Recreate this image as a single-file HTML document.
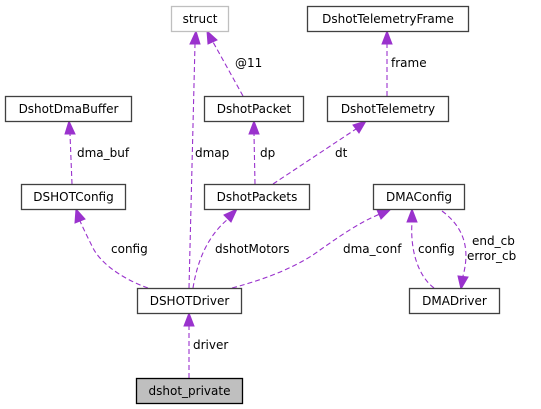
<!DOCTYPE html>
<html><head><meta charset="utf-8"><style>
html,body{margin:0;padding:0;background:#fff;}
svg{display:block;}
text{font-family:"DejaVu Sans",sans-serif;font-size:12px;fill:#000;}
.n{fill:#fff;stroke:#404040;stroke-width:1.3;}
.e{fill:none;stroke:#9a32cd;stroke-dasharray:5,3;stroke-width:1.1;}
.a{fill:#9a32cd;stroke:#9a32cd;}
</style></head><body>
<svg width="541" height="409" viewBox="0 0 541 409">
<!-- edges -->
<path class="e" d="M189,288 L195,44"/><polygon class="a" points="190,44 196,31 200,44"/>
<text x="195" y="157">dmap</text>
<path class="e" d="M243,96 L213,42"/><polygon class="a" points="208,44 207,31 217,40"/>
<text x="235" y="67">@11</text>
<path class="e" d="M387,96 L387,44"/><polygon class="a" points="382,44 387,31 392,44"/>
<text x="391" y="67">frame</text>
<path class="e" d="M72,184 L70,134"/><polygon class="a" points="65,134 69,121 75,134"/>
<text x="77" y="157">dma_buf</text>
<path class="e" d="M255,184 L254,134"/><polygon class="a" points="249,134 254,121 259,134"/>
<text x="260" y="157">dp</text>
<path class="e" d="M273,184 L356,129"/><polygon class="a" points="353,125 366,121 359,133"/>
<text x="335" y="157">dt</text>
<path class="e" d="M148,288 C120,278 100,262 93,248 C88,238 84,230 80,221"/><polygon class="a" points="75,223 76,209 85,219"/>
<text x="111" y="253">config</text>
<path class="e" d="M193,288 C196,270 203,240 228,219"/><polygon class="a" points="224,215 237,209 231,222"/>
<text x="215" y="253">dshotMotors</text>
<path class="e" d="M232,288 C270,278 300,265 320,250 C340,236 360,222 380,214"/><polygon class="a" points="377,210 391,209 381,219"/>
<text x="343" y="253">dma_conf</text>
<path class="e" d="M434,288 C418,276 410,250 412,222"/><polygon class="a" points="407,222 412,209 417,222"/>
<text x="418" y="253">config</text>
<path class="e" d="M442,211 C465,228 470,250 463,276"/><polygon class="a" points="458,276 461,289 468,277"/>
<text x="472" y="245">end_cb</text>
<text x="467" y="260">error_cb</text>
<path class="e" d="M189,378 L189,326"/><polygon class="a" points="184,326 189,313 194,326"/>
<text x="193" y="349">driver</text>
<!-- nodes -->
<rect x="171.5" y="6.5" width="57" height="25" fill="#fff" stroke="#bfbfbf" stroke-width="1.3"/>
<text x="200" y="23" text-anchor="middle">struct</text>
<rect class="n" x="307.5" y="6.5" width="161" height="25"/>
<text x="388" y="23" text-anchor="middle">DshotTelemetryFrame</text>
<rect class="n" x="5.5" y="96.5" width="126" height="25"/>
<text x="68.5" y="113" text-anchor="middle">DshotDmaBuffer</text>
<rect class="n" x="204.5" y="96.5" width="99" height="25"/>
<text x="254" y="113" text-anchor="middle">DshotPacket</text>
<rect class="n" x="327.5" y="96.5" width="121" height="25"/>
<text x="388" y="113" text-anchor="middle">DshotTelemetry</text>
<rect class="n" x="21.5" y="184.5" width="104" height="25"/>
<text x="73.5" y="201" text-anchor="middle">DSHOTConfig</text>
<rect class="n" x="204.5" y="184.5" width="105" height="25"/>
<text x="257" y="201" text-anchor="middle">DshotPackets</text>
<rect class="n" x="373.5" y="184.5" width="91" height="25"/>
<text x="419" y="201" text-anchor="middle">DMAConfig</text>
<rect class="n" x="137.5" y="288.5" width="104" height="25"/>
<text x="189.5" y="305" text-anchor="middle">DSHOTDriver</text>
<rect class="n" x="409.5" y="288.5" width="90" height="25"/>
<text x="454.5" y="305" text-anchor="middle">DMADriver</text>
<rect x="136.5" y="378.5" width="106" height="25" fill="#bfbfbf" stroke="#000" stroke-width="1.3"/>
<text x="189.5" y="395" text-anchor="middle">dshot_private</text>
</svg>
</body></html>
